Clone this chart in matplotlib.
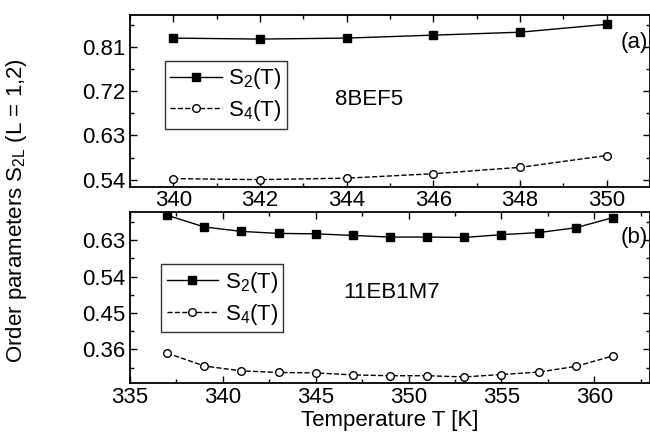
import matplotlib
matplotlib.use("Agg")
import matplotlib.pyplot as plt
from matplotlib.ticker import MultipleLocator

plt.rcParams['font.family'] = ['Liberation Sans', 'DejaVu Sans']
plt.rcParams['mathtext.fontset'] = 'custom'
plt.rcParams['mathtext.rm'] = 'Liberation Sans'
plt.rcParams['mathtext.it'] = 'Liberation Sans:italic'
plt.rcParams['mathtext.default'] = 'regular'

# Panel (a): 8BEF5
T_a = [340, 342, 344, 346, 348, 350]
S2_a = [0.828, 0.826, 0.828, 0.834, 0.840, 0.856]
S4_a = [0.542, 0.540, 0.543, 0.552, 0.565, 0.589]

# Panel (b): 11EB1M7
T_b = [337, 339, 341, 343, 345, 347, 349, 351, 353, 355, 357, 359, 361]
S2_b = [0.692, 0.663, 0.652, 0.647, 0.646, 0.642, 0.638, 0.638, 0.637, 0.644, 0.649, 0.661, 0.686]
S4_b = [0.351, 0.319, 0.307, 0.303, 0.302, 0.297, 0.295, 0.295, 0.292, 0.298, 0.304, 0.318, 0.344]

label_s2 = 'S$_2$(T)'
label_s4 = 'S$_4$(T)'

W, H = 650, 433
fig = plt.figure(figsize=(6.5, 4.33), dpi=100)

def px_axes(x0, y0, x1, y1):
    return fig.add_axes([x0 / W, 1 - y1 / H, (x1 - x0) / W, (y1 - y0) / H])

ax1 = px_axes(130, 15, 650, 187)
ax2 = px_axes(130, 212, 650, 383)

FS = 16

def style(ax):
    for s in ax.spines.values():
        s.set_linewidth(1.3)
    ax.tick_params(which='both', direction='in', top=True, right=True,
                   labelsize=FS, width=1.0)
    ax.tick_params(which='major', length=5, pad=3)
    ax.tick_params(which='minor', length=3)

# Panel a
ax1.plot(T_a, S2_a, '-', color='black', marker='s', markersize=5.5,
         markerfacecolor='black', linewidth=1.0, label=label_s2)
ax1.plot(T_a, S4_a, '--', color='black', marker='o', markersize=5.5,
         markerfacecolor='white', linewidth=1.0, label=label_s4)
ax1.set_xlim(339, 351)
ax1.set_ylim(0.525, 0.875)
ax1.set_yticks([0.54, 0.63, 0.72, 0.81])
ax1.set_yticklabels(['0.54', '0.63', '0.72', '0.81'])
ax1.set_xticks([340, 342, 344, 346, 348, 350])
ax1.xaxis.set_minor_locator(MultipleLocator(1))
ax1.yaxis.set_minor_locator(MultipleLocator(0.045))
style(ax1)
ax1.tick_params(axis='x', pad=2)
leg1 = ax1.legend(loc='upper left', bbox_to_anchor=(0.067, 0.733), borderaxespad=0,
                  fontsize=FS, frameon=True, fancybox=False, edgecolor='black',
                  handlelength=2.3, handletextpad=0.3, labelspacing=0.3,
                  borderpad=0.25)
leg1.get_frame().set_linewidth(1.0)
ax1.text(0.394, 0.51, '8BEF5', transform=ax1.transAxes, fontsize=FS,
         ha='left', va='center')
ax1.text(0.97, 0.84, '(a)', transform=ax1.transAxes, fontsize=FS,
         ha='center', va='center')

# Panel b
ax2.plot(T_b, S2_b, '-', color='black', marker='s', markersize=5.5,
         markerfacecolor='black', linewidth=1.0, label=label_s2)
ax2.plot(T_b, S4_b, '--', color='black', marker='o', markersize=5.5,
         markerfacecolor='white', linewidth=1.0, label=label_s4)
ax2.set_xlim(335, 363)
ax2.set_ylim(0.277, 0.70)
ax2.set_yticks([0.36, 0.45, 0.54, 0.63])
ax2.set_yticklabels(['0.36', '0.45', '0.54', '0.63'])
ax2.set_xticks([335, 340, 345, 350, 355, 360])
ax2.xaxis.set_minor_locator(MultipleLocator(2.5))
ax2.yaxis.set_minor_locator(MultipleLocator(0.045))
style(ax2)
leg2 = ax2.legend(loc='upper left', bbox_to_anchor=(0.06, 0.694), borderaxespad=0,
                  fontsize=FS, frameon=True, fancybox=False, edgecolor='black',
                  handlelength=2.3, handletextpad=0.3, labelspacing=0.3,
                  borderpad=0.25)
leg2.get_frame().set_linewidth(1.0)
ax2.text(0.41, 0.53, '11EB1M7', transform=ax2.transAxes, fontsize=FS,
         ha='left', va='center')
ax2.text(0.97, 0.85, '(b)', transform=ax2.transAxes, fontsize=FS,
         ha='center', va='center')
ax2.set_xlabel('Temperature T [K]', fontsize=FS, labelpad=1)

fig.text(0.026, 0.515, 'Order parameters S$_{2L}$ (L = 1,2)', rotation=90,
         fontsize=FS, ha='center', va='center')

fig.savefig('out.png', dpi=100)
